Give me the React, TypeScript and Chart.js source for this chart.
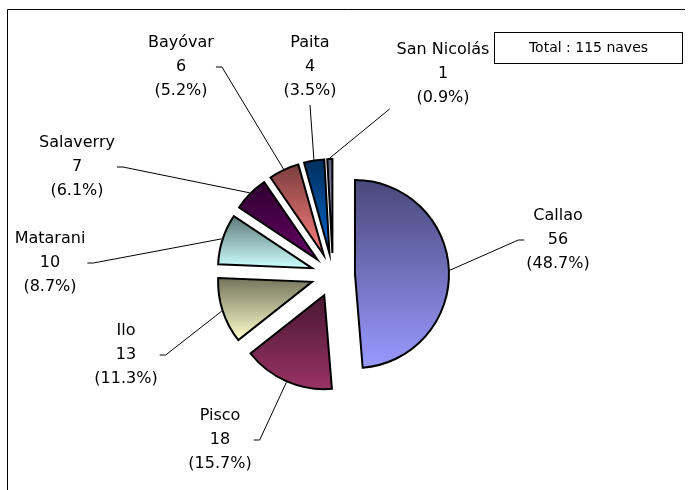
import React, { useEffect, useRef } from "react";
import { Chart, registerables } from "chart.js";

Chart.register(...registerables);

// ---- data ----
const categories = ["Callao", "Pisco", "Ilo", "Matarani", "Salaverry", "Bayóvar", "Paita", "San Nicolás"];
const naves = [56, 18, 13, 10, 7, 6, 4, 1];
const totalText = "Total : 115 naves";

// ---- styles ----
const lightColors = ["#9999ff", "#993366", "#ffffcc", "#ccffff", "#660066", "#ff8080", "#0066cc", "#ccccff"];
const darkColors = ["#49497a", "#491831", "#74745c", "#5f7a7a", "#2e002e", "#7a3d3d", "#002f5e", "#5e5e7a"];
// label block centre (middle line) and side where the leader attaches
const labelLayout = [
  { x: 558, y: 240, side: "left" },
  { x: 220, y: 440, side: "right" },
  { x: 126, y: 355, side: "right" },
  { x: 50, y: 263, side: "right" },
  { x: 77, y: 167, side: "right" },
  { x: 181, y: 67, side: "right" },
  { x: 310, y: 67, side: "below" },
  { x: 443, y: 74, side: "belowLeft" },
];

const RADIUS = 94;
const EXPLODE = 22;
const LINE = 24;
const FONT = "16px 'DejaVu Sans'";

const total = naves.reduce((a, b) => a + b, 0);

function sliceAngles(i: number) {
  let start = -Math.PI / 2;
  for (let k = 0; k < i; k++) start += (naves[k] / total) * Math.PI * 2;
  const end = start + (naves[i] / total) * Math.PI * 2;
  return { start, end };
}

function gradientFor(c: any) {
  const chart = c.chart;
  const i = c.dataIndex;
  const area = chart.chartArea;
  if (!area) return lightColors[i];
  const { start, end } = sliceAngles(i);
  const mid = (start + end) / 2;
  const cy = (area.top + area.bottom) / 2 + Math.sin(mid) * EXPLODE;
  const ys = [cy, cy + RADIUS * Math.sin(start), cy + RADIUS * Math.sin(end)];
  for (const a of [-Math.PI / 2, Math.PI / 2, (3 * Math.PI) / 2]) {
    if (a >= start && a <= end) ys.push(cy + RADIUS * Math.sin(a));
  }
  const minY = Math.min(...ys);
  const maxY = Math.max(...ys);
  const g = chart.ctx.createLinearGradient(0, minY, 0, maxY);
  g.addColorStop(0, darkColors[i]);
  g.addColorStop(1, lightColors[i]);
  return g;
}

const explodePlugin = {
  id: "explode",
  afterDatasetUpdate(chart: any) {
    const area = chart.chartArea;
    const cx = (area.left + area.right) / 2;
    const cy = (area.top + area.bottom) / 2;
    chart.getDatasetMeta(0).data.forEach((arc: any) => {
      const mid = (arc.startAngle + arc.endAngle) / 2;
      arc.x = cx + Math.cos(mid) * EXPLODE;
      arc.y = cy + Math.sin(mid) * EXPLODE;
    });
  },
};

const labelsPlugin = {
  id: "pieLabels",
  afterDatasetsDraw(chart: any) {
    const ctx = chart.ctx;
    const meta = chart.getDatasetMeta(0);
    ctx.save();
    ctx.font = FONT;
    ctx.fillStyle = "#000";
    ctx.strokeStyle = "#000";
    ctx.lineWidth = 1;
    ctx.textAlign = "center";
    ctx.textBaseline = "middle";
    meta.data.forEach((arc: any, i: number) => {
      const p = arc.getProps(["x", "y", "startAngle", "endAngle", "outerRadius"], true);
      const mid = (p.startAngle + p.endAngle) / 2;
      const ax = p.x + Math.cos(mid) * (p.outerRadius + 1);
      const ay = p.y + Math.sin(mid) * (p.outerRadius + 1);
      const pct = ((naves[i] / total) * 100).toFixed(1);
      const lines = [categories[i], String(naves[i]), `(${pct}%)`];
      const w = Math.max(...lines.map((l) => ctx.measureText(l).width));
      const L = labelLayout[i];
      ctx.beginPath();
      if (L.side === "left") {
        ctx.moveTo(L.x - w / 2 - 2, L.y);
        ctx.lineTo(L.x - w / 2 - 8, L.y);
        ctx.lineTo(ax, ay);
      } else if (L.side === "right") {
        ctx.moveTo(L.x + w / 2 + 2, L.y);
        ctx.lineTo(L.x + w / 2 + 8, L.y);
        ctx.lineTo(ax, ay);
      } else if (L.side === "below") {
        ctx.moveTo(L.x, L.y + LINE * 1.5 + 2);
        ctx.lineTo(ax, ay);
      } else {
        ctx.moveTo(L.x - w / 2 - 7, L.y + LINE * 1.5 - 1);
        ctx.lineTo(ax, ay);
      }
      ctx.stroke();
      lines.forEach((t, k) => ctx.fillText(t, L.x, L.y + (k - 1) * LINE));
    });
    ctx.restore();
  },
  afterDraw(chart: any) {
    const ctx = chart.ctx;
    ctx.save();
    ctx.strokeStyle = "#000";
    ctx.lineWidth = 1;
    // outer frame (top and left edges visible)
    ctx.beginPath();
    ctx.moveTo(7.5, 490);
    ctx.lineTo(7.5, 9.5);
    ctx.lineTo(685, 9.5);
    ctx.stroke();
    // total box
    ctx.strokeRect(494.5, 32.5, 188, 31);
    ctx.font = "14px 'DejaVu Sans'";
    ctx.fillStyle = "#000";
    ctx.textAlign = "center";
    ctx.textBaseline = "middle";
    ctx.fillText(totalText, 588.5, 48.5);
    ctx.restore();
  },
};

export default function App() {
  const ref = useRef<HTMLCanvasElement | null>(null);
  useEffect(() => {
    if (!ref.current) return;
    const chart = new Chart(ref.current, {
      type: "pie",
      data: {
        labels: categories,
        datasets: [
          {
            data: naves,
            backgroundColor: (c: any) => gradientFor(c),
            borderColor: "#000",
            borderWidth: 2,
            borderJoinStyle: "miter",
            offset: 0,
            hoverOffset: 0,
            radius: RADIUS,
          } as any,
        ],
      },
      options: {
        responsive: false,
        animation: false,
        radius: RADIUS,
        layout: { padding: { left: 100, right: 129, top: 100, bottom: 40 } },
        plugins: { legend: { display: false }, tooltip: { enabled: false } },
        events: [],
      } as any,
      plugins: [explodePlugin, labelsPlugin],
    });
    return () => chart.destroy();
  }, []);
  return (
    <div style={{ position: "absolute", left: 0, top: 0, width: 695, height: 490, background: "#fff" }}>
      <canvas ref={ref} width={695} height={490} style={{ display: "block" }} />
    </div>
  );
}
